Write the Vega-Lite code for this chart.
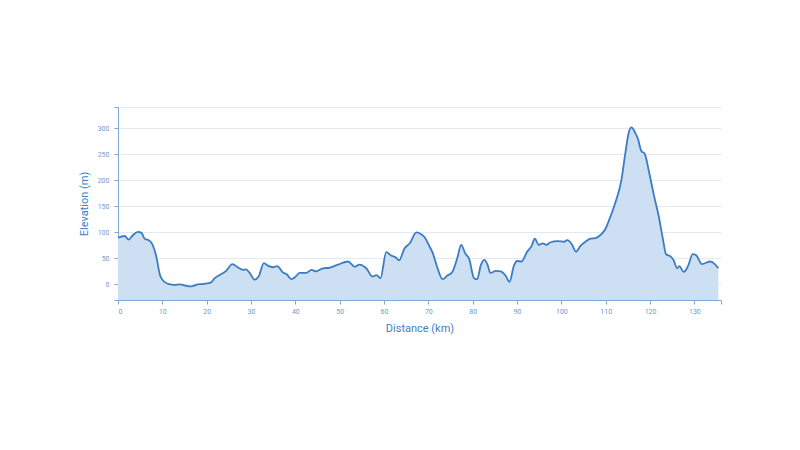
{
  "$schema": "https://vega.github.io/schema/vega-lite/v6.json",
  "width": 603,
  "height": 193,
  "autosize": {"type": "none"},
  "padding": {"left": 118, "top": 107, "right": 79, "bottom": 150},
  "background": "white",
  "config": {"view": {"stroke": null}, "font": "Roboto"},
  "data": {"values": [
    {"km": 0, "elev": 90}, {"km": 1.5, "elev": 93}, {"km": 2.4, "elev": 86}, {"km": 3.4, "elev": 95},
    {"km": 4.5, "elev": 101}, {"km": 5.3, "elev": 99}, {"km": 6, "elev": 88}, {"km": 7.1, "elev": 84},
    {"km": 7.7, "elev": 78}, {"km": 8.6, "elev": 55}, {"km": 9.5, "elev": 17}, {"km": 10.2, "elev": 7},
    {"km": 11.3, "elev": 1}, {"km": 12.8, "elev": -1}, {"km": 13.9, "elev": 0}, {"km": 15.4, "elev": -3},
    {"km": 16.5, "elev": -4}, {"km": 18, "elev": 0}, {"km": 19.5, "elev": 1}, {"km": 21, "elev": 4},
    {"km": 21.8, "elev": 12}, {"km": 22.9, "elev": 18}, {"km": 24.4, "elev": 26}, {"km": 25.8, "elev": 39},
    {"km": 27, "elev": 33}, {"km": 28.2, "elev": 28}, {"km": 28.9, "elev": 29}, {"km": 29.7, "elev": 22},
    {"km": 30.8, "elev": 9}, {"km": 31.7, "elev": 15}, {"km": 32.9, "elev": 41}, {"km": 33.8, "elev": 36},
    {"km": 35, "elev": 33}, {"km": 35.9, "elev": 35}, {"km": 37.2, "elev": 23}, {"km": 38.1, "elev": 19},
    {"km": 39.1, "elev": 10}, {"km": 39.8, "elev": 13}, {"km": 41, "elev": 22}, {"km": 42.5, "elev": 22},
    {"km": 43.6, "elev": 28}, {"km": 44.7, "elev": 25}, {"km": 46.2, "elev": 31}, {"km": 47.7, "elev": 32},
    {"km": 49.6, "elev": 38}, {"km": 51.9, "elev": 44}, {"km": 53.4, "elev": 34}, {"km": 54.4, "elev": 38},
    {"km": 56, "elev": 31}, {"km": 57.4, "elev": 15}, {"km": 58.3, "elev": 18}, {"km": 59.2, "elev": 12},
    {"km": 60.5, "elev": 62}, {"km": 61.7, "elev": 55}, {"km": 62.6, "elev": 52}, {"km": 63.4, "elev": 46},
    {"km": 64.6, "elev": 69}, {"km": 65.8, "elev": 79}, {"km": 67.3, "elev": 100}, {"km": 68.3, "elev": 97},
    {"km": 69.2, "elev": 90}, {"km": 70.2, "elev": 74}, {"km": 71, "elev": 60}, {"km": 72, "elev": 33},
    {"km": 73.2, "elev": 10}, {"km": 74.3, "elev": 17}, {"km": 75.4, "elev": 24}, {"km": 76.5, "elev": 50},
    {"km": 77.4, "elev": 76}, {"km": 78.3, "elev": 60}, {"km": 79.2, "elev": 49}, {"km": 80.3, "elev": 12},
    {"km": 81, "elev": 10}, {"km": 81.8, "elev": 36}, {"km": 82.6, "elev": 47}, {"km": 83.3, "elev": 39},
    {"km": 84, "elev": 22}, {"km": 85.2, "elev": 26}, {"km": 86.3, "elev": 25}, {"km": 87.4, "elev": 17},
    {"km": 88.3, "elev": 5}, {"km": 89.3, "elev": 36}, {"km": 90, "elev": 45}, {"km": 91, "elev": 44},
    {"km": 92.3, "elev": 63}, {"km": 93.3, "elev": 74}, {"km": 94, "elev": 88}, {"km": 94.9, "elev": 76},
    {"km": 95.8, "elev": 79}, {"km": 96.6, "elev": 76}, {"km": 97.6, "elev": 81}, {"km": 99.1, "elev": 83},
    {"km": 100.6, "elev": 82}, {"km": 101.3, "elev": 85}, {"km": 102.3, "elev": 78}, {"km": 103.3, "elev": 63},
    {"km": 104.3, "elev": 74}, {"km": 105.4, "elev": 82}, {"km": 106.6, "elev": 88}, {"km": 107.7, "elev": 89},
    {"km": 108.8, "elev": 95}, {"km": 109.9, "elev": 106}, {"km": 111, "elev": 129}, {"km": 112.2, "elev": 158},
    {"km": 113.5, "elev": 199}, {"km": 114.4, "elev": 251}, {"km": 115.2, "elev": 292}, {"km": 115.8, "elev": 302},
    {"km": 116.6, "elev": 292}, {"km": 117.3, "elev": 279}, {"km": 118, "elev": 257}, {"km": 118.8, "elev": 251},
    {"km": 119.7, "elev": 219}, {"km": 120.8, "elev": 174}, {"km": 122, "elev": 129}, {"km": 122.9, "elev": 87},
    {"km": 123.6, "elev": 58}, {"km": 124.6, "elev": 54}, {"km": 125.3, "elev": 47}, {"km": 126.1, "elev": 31},
    {"km": 126.6, "elev": 35}, {"km": 127.6, "elev": 24}, {"km": 128.6, "elev": 36}, {"km": 129.6, "elev": 58},
    {"km": 130.4, "elev": 56}, {"km": 131.7, "elev": 39}, {"km": 133.6, "elev": 44}, {"km": 134.6, "elev": 39},
    {"km": 135.4, "elev": 31}
  ]},
  "mark": {
    "type": "area",
    "interpolate": "monotone",
    "color": "#cddff3",
    "opacity": 1,
    "line": {"color": "#3b7cc2", "strokeWidth": 1.8}
  },
  "encoding": {
    "x": {
      "field": "km", "type": "quantitative",
      "scale": {"domain": [0, 136], "nice": false, "zero": false},
      "axis": {
        "title": "Distance (km)",
        "values": [0, 10, 20, 30, 40, 50, 60, 70, 80, 90, 100, 110, 120, 130, 136],
        "labelExpr": "datum.value > 133 ? '' : datum.label",
        "grid": false,
        "domainColor": "#7fa8d6", "tickColor": "#7fa8d6", "tickSize": 4,
        "labelColor": "#6f9acb", "labelFontSize": 7, "labelPadding": 3,
        "titleColor": "#3d7fc4", "titleFontSize": 11, "titleFontWeight": "normal", "titlePadding": 8
      }
    },
    "y": {
      "field": "elev", "type": "quantitative",
      "scale": {"domain": [-30, 341], "nice": false, "zero": false},
      "axis": {
        "title": "Elevation (m)",
        "values": [-30, 0, 50, 100, 150, 200, 250, 300, 341],
        "labelExpr": "(datum.value < -10 || datum.value > 320) ? '' : datum.label",
        "gridColor": "#e1eaf3", "gridWidth": 1,
        "domainColor": "#7fa8d6", "tickColor": "#7fa8d6", "tickSize": 4,
        "labelColor": "#6f9acb", "labelFontSize": 7, "labelPadding": 5,
        "titleColor": "#3d7fc4", "titleFontSize": 11, "titleFontWeight": "normal", "titlePadding": 8
      }
    },
    "y2": {"datum": -30}
  }
}
